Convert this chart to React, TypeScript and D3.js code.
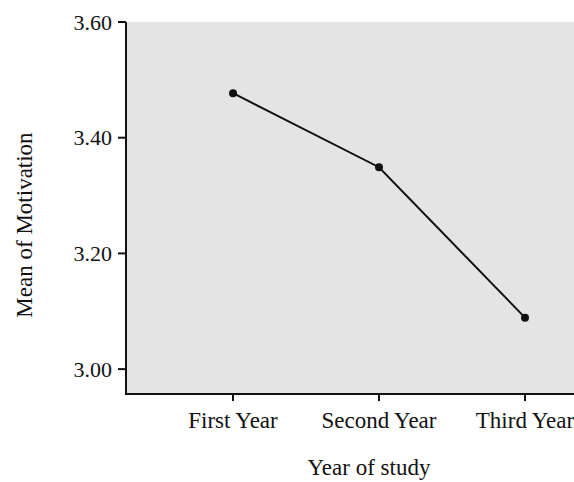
import * as React from "react";
import * as d3 from "d3";

const years = ["First Year", "Second Year", "Third Year"];
const motivation = [3.477, 3.349, 3.089];
const yTicks = [3.0, 3.2, 3.4, 3.6];

const W = 574;
const H = 482;
const PLOT = { left: 126, right: 632, top: 22, bottom: 394 };
const FONT = "'Liberation Serif', 'Times New Roman', serif";

export default function App() {
  const x = d3
    .scalePoint<string>()
    .domain(years)
    .range([PLOT.left, PLOT.right])
    .padding(0.733);
  const y = d3.scaleLinear().domain([2.957, 3.6]).range([PLOT.bottom, PLOT.top]);

  const line = d3
    .line<number>()
    .x((_, i) => x(years[i]) ?? 0)
    .y((d) => y(d));

  return (
    <svg
      width={W}
      height={H}
      style={{ position: "absolute", left: 0, top: 0, background: "#fff" }}
      fontFamily={FONT}
    >
      <rect
        x={PLOT.left}
        y={PLOT.top}
        width={PLOT.right - PLOT.left}
        height={PLOT.bottom - PLOT.top}
        fill="#e4e4e4"
      />

      {/* y axis */}
      <line x1={PLOT.left} x2={PLOT.left} y1={PLOT.top} y2={PLOT.bottom} stroke="#111" strokeWidth={2} />
      {yTicks.map((t) => (
        <g key={t} transform={`translate(0,${y(t)})`}>
          <line x1={PLOT.left - 8} x2={PLOT.left} stroke="#111" strokeWidth={2} />
          <text x={PLOT.left - 14} dy="0.35em" textAnchor="end" fontSize={22} fill="#111">
            {t.toFixed(2)}
          </text>
        </g>
      ))}

      {/* x axis */}
      <line x1={PLOT.left - 1} x2={W} y1={PLOT.bottom} y2={PLOT.bottom} stroke="#111" strokeWidth={2} />
      {years.map((c) => (
        <g key={c} transform={`translate(${x(c)},${PLOT.bottom})`}>
          <line y1={0} y2={7} stroke="#111" strokeWidth={2} />
          <text y={34} textAnchor="middle" fontSize={23} fill="#111">
            {c}
          </text>
        </g>
      ))}

      <path d={line(motivation) ?? ""} fill="none" stroke="#111" strokeWidth={2} />
      {motivation.map((v, i) => (
        <circle key={i} cx={x(years[i])} cy={y(v)} r={4} fill="#111" />
      ))}

      <text x={369} y={475} textAnchor="middle" fontSize={23} fill="#111">
        Year of study
      </text>
      <text
        transform={`translate(32,225) rotate(-90)`}
        textAnchor="middle"
        fontSize={23}
        fill="#111"
      >
        Mean of Motivation
      </text>
    </svg>
  );
}
